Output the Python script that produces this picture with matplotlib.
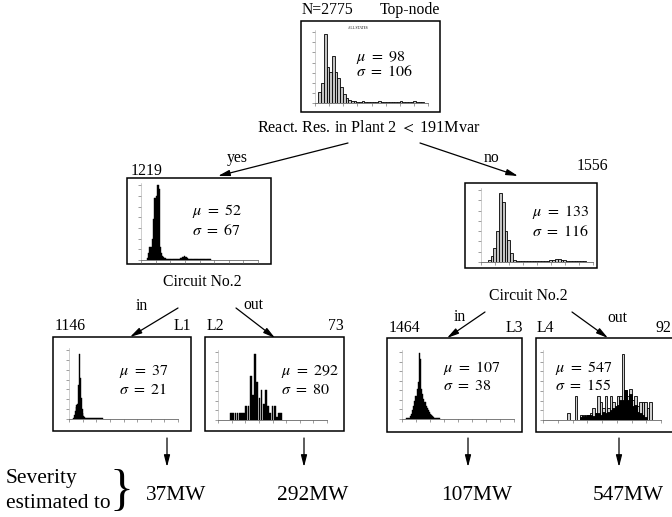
import numpy as np
import matplotlib.pyplot as plt
from matplotlib.patches import Rectangle

plt.rcParams['font.family'] = 'serif'
plt.rcParams['font.serif'] = ['Liberation Serif', 'DejaVu Serif']
plt.rcParams['mathtext.fontset'] = 'stix'

W, H = 672, 517

node_names = ['top', 'yes', 'no', 'L1', 'L2', 'L3', 'L4']
node_counts = [2775, 1219, 1556, 1146, 73, 1464, 92]
node_mu = [98, 52, 133, 37, 292, 107, 547]
node_sigma = [106, 67, 116, 21, 80, 38, 155]
severity_mw = [37, 292, 107, 547]
split_labels = ['React. Res. in Plant 2 $<$ 191Mvar', 'Circuit No.2', 'Circuit No.2']
branch_labels = ['yes', 'no', 'in', 'out', 'in', 'out']

# histograms: first bin edge (MW), bin width (MW), relative bar heights
top_start, top_width = 30, 24
top_heights = [0.16, 0.28, 0.98, 0.51, 0.44, 0.67, 0.44, 0.35, 0.23, 0.13, 0.07, 0.04, 0.03,
               0.03, 0.02, 0.02, 0.03, 0.02, 0.02, 0.02, 0.02, 0.02, 0.03, 0.02, 0.02, 0.02,
               0.02, 0.02, 0.02, 0.02, 0.03, 0.02, 0.02, 0.02, 0.02, 0.03, 0.02, 0.02, 0.02]
yes_start, yes_width = 50, 10
yes_heights = [0.03, 0.1, 0.17, 0.17, 0.28, 0.55, 0.83, 0.83, 0.85, 1.0, 0.95, 0.17, 0.1, 0.06,
               0.04, 0.03, 0.02, 0.02, 0.02, 0.02, 0.02, 0.02, 0.02, 0.02, 0.02, 0.02, 0.02,
               0.02, 0.03, 0.03, 0.04, 0.04, 0.05, 0.04, 0.03, 0.02, 0.02, 0.02, 0.02, 0.02,
               0.01, 0.01, 0.01, 0.01, 0.01, 0.01, 0.01, 0.01, 0.01, 0.01, 0.01, 0.01, 0.01,
               0.01, 0.01]
no_start, no_width = 60, 25
no_heights = [0.03, 0.09, 0.2, 0.43, 0.96, 0.83, 0.43, 0.3, 0.13, 0.03, 0.02, 0.02, 0.02,
              0.02, 0.02, 0.02, 0.02, 0.02, 0.02, 0.02, 0.02, 0.02, 0.03, 0.03, 0.04, 0.04,
              0.03, 0.03, 0.02, 0.02, 0.02, 0.02, 0.02, 0.02, 0.02]
l1_start, l1_width = 36, 8
l1_heights = [0.02, 0.06, 0.12, 0.18, 0.2, 0.22, 0.5, 0.95, 0.6, 0.3, 0.15, 0.08, 0.05, 0.03,
              0.02, 0.02, 0.01, 0.01, 0.01, 0.01, 0.01, 0.01, 0.01, 0.01, 0.01, 0.01, 0.01,
              0.01, 0.01, 0.01, 0.01, 0.01, 0.01, 0.01]
l2_start, l2_width = 110, 20
l2_heights = [0.11, 0.11, 0.11, 0.11, 0.11, 0.11, 0.11, 0.2, 0.2, 0.65, 0.37, 0.97, 0.56, 0.32,
              0.44, 0.23, 0.44, 0.2, 0.11, 0.2, 0.2, 0.04, 0.11, 0.11]
l3_start, l3_width = 40, 10
l3_heights = [0.01, 0.01, 0.02, 0.05, 0.08, 0.14, 0.2, 0.27, 0.34, 0.45, 0.55, 0.98, 0.9, 0.45,
              0.38, 0.3, 0.26, 0.2, 0.17, 0.13, 0.11, 0.08, 0.06, 0.04, 0.03, 0.02, 0.02, 0.01,
              0.01, 0.01]
l4_start, l4_width = 207, 21
l4_heights = [0.1, 0, 0, 0.35, 0, 0.08, 0.08, 0.08, 0.08, 0.1, 0.18, 0.1, 0.35, 0.26, 0.18,
              0.35, 0.18, 0.35, 0.26, 0.17, 0.35, 0.35, 0.97, 0.44, 0.35, 0.45, 0.29, 0.35,
              0.21, 0.26, 0.26, 0.26, 0.18, 0.26]
l4_dark_heights = [0, 0, 0, 0, 0, 0.04, 0.06, 0.06, 0.08, 0.08, 0.06, 0.1, 0.1, 0.08, 0.12,
                   0.1, 0.12, 0.15, 0.18, 0.2, 0.22, 0.3, 0.3, 0.44, 0.3, 0.38, 0.2, 0.22,
                   0.12, 0.1, 0.08, 0.05, 0, 0]

# ---- layout in pixels (x0, y0, x1, y1), y downwards ----
boxes = {
    'top': (301, 21, 440, 112), 'yes': (127, 178, 271, 264), 'no': (465, 183, 597, 268),
    'L1': (53, 337, 191, 431), 'L2': (205, 337, 344, 431),
    'L3': (387, 338, 522, 432), 'L4': (536, 338, 700, 432),
}
hist_rects = {
    'top': (315, 30, 428, 103), 'yes': (141, 183, 258, 260), 'no': (481, 188, 593, 262),
    'L1': (69, 348, 178, 419), 'L2': (218, 350, 327, 420),
    'L3': (402, 350, 514, 419), 'L4': (543, 350, 661, 420),
}
# (x, y of mu line, y of sigma line)
stat_pos = {
    'top': (356, 57, 72), 'yes': (192, 211, 231), 'no': (532, 212, 232),
    'L1': (119, 372, 390), 'L2': (281, 371, 390), 'L3': (443, 368, 386), 'L4': (555, 368, 386),
}

fig = plt.figure(figsize=(W / 100, H / 100), dpi=100)
ax = fig.add_axes([0, 0, 1, 1])
ax.set_xlim(0, W)
ax.set_ylim(H, 0)
ax.axis('off')


def px_axes(x0, y0, x1, y1):
    return fig.add_axes([x0 / W, 1 - y1 / H, (x1 - x0) / W, (y1 - y0) / H])


def draw_hist(name, start, width, heights, face, bar_frac=1.0, lw=0.6, dark=None):
    hx = px_axes(*hist_rects[name])
    centers = start + width * (np.arange(len(heights)) + 0.5)
    hx.bar(centers, heights, width=width * bar_frac, color=face, edgecolor='black', linewidth=lw)
    if dark is not None:
        hx.bar(centers, dark, width=width * bar_frac, color='black', edgecolor='black', linewidth=lw)
    hx.set_xlim(0, 1000)
    hx.set_ylim(0, 1.03)
    hx.patch.set_visible(False)
    for s in ['top', 'right']:
        hx.spines[s].set_visible(False)
    hx.spines['bottom'].set_color('#666666')
    hx.spines['bottom'].set_linewidth(0.6)
    hx.spines['left'].set_color('#aaaaaa')
    hx.spines['left'].set_linewidth(0.4)
    hx.set_xticks(np.linspace(0, 1000, 9))
    hx.set_yticks(np.linspace(0, 1, 8))
    hx.tick_params(length=2, width=0.5, colors='#777777', direction='out',
                   labelbottom=False, labelleft=False)
    return hx


# boxes
for name in node_names:
    x0, y0, x1, y1 = boxes[name]
    ax.add_patch(Rectangle((x0, y0), x1 - x0, y1 - y0, facecolor='white',
                           edgecolor='black', linewidth=1.1))

# histograms
hx = draw_hist('top', top_start, top_width, top_heights, '#c4c4c4')
hx.text(0.38, 1.02, 'ALL STATES', transform=hx.transAxes, fontsize=2.5, ha='center')
draw_hist('yes', yes_start, yes_width, yes_heights, 'black', lw=0.3)
draw_hist('no', no_start, no_width, no_heights, '#c4c4c4')
draw_hist('L1', l1_start, l1_width, l1_heights, 'black', lw=0.3)
draw_hist('L2', l2_start, l2_width, l2_heights, 'black', bar_frac=0.8, lw=0.3)
draw_hist('L3', l3_start, l3_width, l3_heights, 'black', lw=0.3)
draw_hist('L4', l4_start, l4_width, l4_heights, '#d0d0d0', lw=0.6, dark=l4_dark_heights)

# mu / sigma
for name, mu, sd in zip(node_names, node_mu, node_sigma):
    x, ym, ys = stat_pos[name]
    ax.text(x, ym, r'$\mu\ =\ %d$' % mu, fontsize=11.5, va='center', ha='left')
    ax.text(x, ys, r'$\sigma\ =\ %d$' % sd, fontsize=11.5, va='center', ha='left')

# node counts and labels
fs = 11.3
ax.text(302, 10, 'N=%d' % node_counts[0], fontsize=fs, va='center', ha='left')
ax.text(440, 10, 'Top-node', fontsize=fs, va='center', ha='right')
ax.text(131, 171, str(node_counts[1]), fontsize=fs, va='center', ha='left')
ax.text(608, 166, str(node_counts[2]), fontsize=fs, va='center', ha='right')
ax.text(55, 326, str(node_counts[3]), fontsize=fs, va='center', ha='left')
ax.text(191, 326, 'L1', fontsize=fs, va='center', ha='right')
ax.text(207, 326, 'L2', fontsize=fs, va='center', ha='left')
ax.text(344, 326, str(node_counts[4]), fontsize=fs, va='center', ha='right')
ax.text(389, 328, str(node_counts[5]), fontsize=fs, va='center', ha='left')
ax.text(523, 328, 'L3', fontsize=fs, va='center', ha='right')
ax.text(537, 328, 'L4', fontsize=fs, va='center', ha='left')
ax.text(656, 328, str(node_counts[6]), fontsize=fs, va='center', ha='left')

# split questions
ax.text(369, 128, split_labels[0], fontsize=11.6, va='center', ha='center')
ax.text(202, 282, split_labels[1], fontsize=fs, va='center', ha='center')
ax.text(528, 296, split_labels[2], fontsize=fs, va='center', ha='center')

# branches: (start, end, label position)
branches = [((348, 143), (218, 176), (237, 158)),
            ((420, 143), (518, 176), (492, 158)),
            ((178, 308), (130, 337), (142, 306)),
            ((236, 308), (275, 338), (253, 305)),
            ((485, 312), (447, 338), (460, 317)),
            ((572, 312), (608, 338), (617, 318))]
for (s, e, lp), lab in zip(branches, branch_labels):
    ax.annotate('', xy=e, xytext=s,
                arrowprops=dict(arrowstyle='-|>,head_length=0.7,head_width=0.18',
                                lw=0.9, color='black', shrinkA=0, shrinkB=0))
    ax.text(lp[0], lp[1], lab, fontsize=fs, va='center', ha='center')

# leaf arrows and severity
leaf_x = [167, 304, 468, 619]
for x, mw in zip(leaf_x, severity_mw):
    ax.annotate('', xy=(x, 467), xytext=(x, 438),
                arrowprops=dict(arrowstyle='-|>,head_length=0.7,head_width=0.18',
                                lw=0.9, color='black', shrinkA=0, shrinkB=0))
    ax.text(x + 9, 495, '%dMW' % mw, fontsize=15.4, va='center', ha='center')

ax.text(6, 479, 'Severity', fontsize=15.4, va='center', ha='left')
ax.text(6, 503, 'estimated to', fontsize=15.4, va='center', ha='left')
ax.text(110, 492, '}', fontsize=36, va='center', ha='left')

fig.savefig('out.png', dpi=100)
